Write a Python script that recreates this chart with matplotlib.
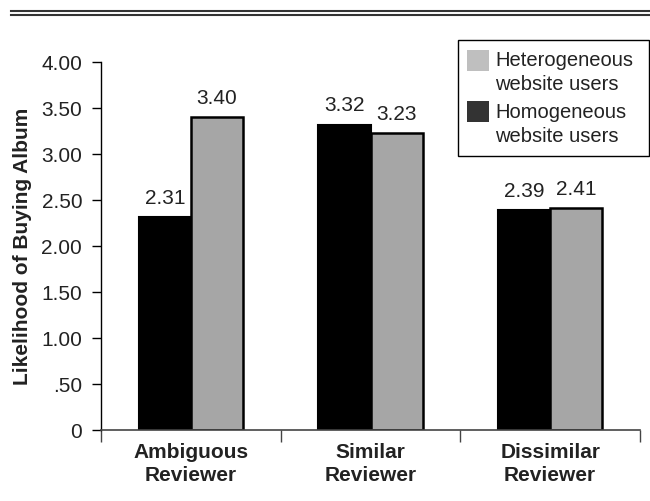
import matplotlib
matplotlib.use("Agg")
from matplotlib import pyplot as plt
from matplotlib.patches import Rectangle
from matplotlib.lines import Line2D
import numpy as np

plt.rcParams['font.family'] = ['Liberation Sans', 'DejaVu Sans']

categories = ['Ambiguous\nReviewer', 'Similar\nReviewer', 'Dissimilar\nReviewer']
homogeneous = [2.31, 3.32, 2.39]
heterogeneous = [3.40, 3.23, 2.41]
y_ticks = [0, 0.5, 1.0, 1.5, 2.0, 2.5, 3.0, 3.5, 4.0]
y_tick_labels = ['0', '.50', '1.00', '1.50', '2.00', '2.50', '3.00', '3.50', '4.00']
legend_labels = ['Heterogeneous\nwebsite users', 'Homogeneous\nwebsite users']
legend_colors = ['#bfbfbf', '#333333']

W, H = 650, 501
fig = plt.figure(figsize=(W / 100, H / 100), dpi=100)
ax = fig.add_axes([101 / W, 1 - 430 / H, 539 / W, 368 / H])

x = np.arange(len(categories))
w = 0.29
b1 = ax.bar(x - w / 2, homogeneous, w, color='black', edgecolor='black', linewidth=1.5)
b2 = ax.bar(x + w / 2, heterogeneous, w, color='#a6a6a6', edgecolor='black', linewidth=1.8)

for bars, vals in [(b1, homogeneous), (b2, heterogeneous)]:
    for r, v in zip(bars, vals):
        ax.annotate('%.2f' % v, (r.get_x() + r.get_width() / 2, v), xytext=(0, 9.5),
                    textcoords='offset points', ha='center', va='baseline',
                    fontsize=15, color='#222222')

ax.set_xlim(-0.5, 2.5)
ax.set_ylim(0, 4)
ax.set_yticks(y_ticks)
ax.set_yticklabels(y_tick_labels, fontsize=15, color='#222222')
ax.set_xticks(x)
ax.set_xticklabels(categories, fontsize=15, fontweight='bold', color='#222222', linespacing=1.3)
ax.tick_params(axis='x', length=0, pad=9)
ax.set_xticks([-0.5, 0.5, 1.5, 2.5], minor=True)
ax.tick_params(axis='x', which='minor', length=8.5, width=1, color='#444444')
ax.tick_params(axis='y', length=6.5, width=1, pad=7)
ax.set_ylabel('Likelihood of Buying Album', fontsize=15, fontweight='bold', color='#222222', labelpad=7)

for s in ['top', 'right']:
    ax.spines[s].set_visible(False)
ax.spines['left'].set_linewidth(1)
ax.spines['bottom'].set_color('#444444')
ax.spines['bottom'].set_linewidth(1.2)

# legend drawn by hand so the swatch sits beside the first line of each label
fig.add_artist(Rectangle((458 / W, 1 - 156 / H), 191 / W, 116 / H, transform=fig.transFigure,
                         facecolor='white', edgecolor='black', linewidth=1))
for i, (lab, col) in enumerate(zip(legend_labels, legend_colors)):
    top = 61 + i * 51
    fig.add_artist(Rectangle((467 / W, 1 - (top + 10) / H), 22 / W, 21 / H, transform=fig.transFigure,
                             facecolor=col, edgecolor='none'))
    for j, line in enumerate(lab.split('\n')):
        fig.text(495 / W, 1 - (top + j * 24) / H, line, fontsize=14.5, color='#222222',
                 ha='left', va='center')

for yy in [1 - 10.7 / H, 1 - 14.7 / H]:
    fig.add_artist(Line2D([11 / W, 1], [yy, yy], color='#333333', linewidth=1.5))

fig.savefig('out.png', dpi=100)
